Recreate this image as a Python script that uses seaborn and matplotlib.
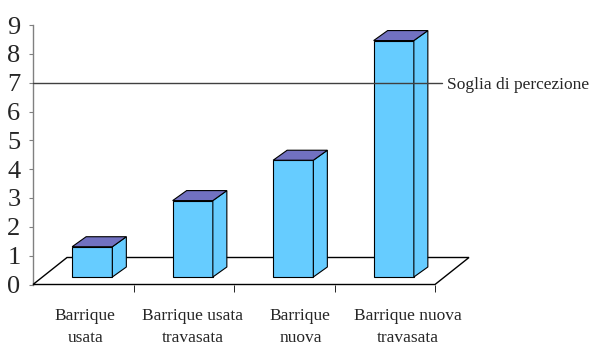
import numpy as np
import matplotlib
matplotlib.use("Agg")
import matplotlib.pyplot as plt
import matplotlib.transforms as mtransforms
from matplotlib.patches import Polygon
import seaborn as sns

# data
categories = ["Barrique\nusata", "Barrique usata\ntravasata",
              "Barrique\nnuova", "Barrique nuova\ntravasata"]
values = [1.05, 2.65, 4.05, 8.2]
threshold = 7
threshold_label = "Soglia di percezione"
yticks = list(range(10))

FRONT = "#66CCFF"
TOP = "#7171C1"

sns.set_style("white")
plt.rcParams["font.family"] = ["Liberation Serif", "DejaVu Serif"]

W, H = 596, 347
fig = plt.figure(figsize=(W / 100, H / 100), dpi=100)
ax = fig.add_axes([33 / W, (H - 284.5) / H, 402 / W, 259.5 / H])

sns.barplot(x=categories, y=values, width=0.40, color=FRONT, saturation=1,
            edgecolor="black", linewidth=0.8, ax=ax, zorder=3)
bars = list(ax.patches)
ax.set_xlim(-0.5, len(categories) - 0.5)
ax.set_ylim(0, 9)


def shifted(pts, dx, dy):
    # move data points by a fixed amount of pixels (oblique 3d look)
    disp = ax.transData.transform(np.asarray(pts, dtype=float)) + [dx, dy]
    return ax.transData.inverted().transform(disp)


# floor of the 3d box
x0, x1 = ax.get_xlim()
floor = np.vstack([[(x0, 0), (x1, 0)], shifted([(x1, 0), (x0, 0)], 34, 27)])
ax.add_patch(Polygon(floor, closed=True, facecolor="white", edgecolor="black",
                     lw=1.0, zorder=1, clip_on=False))

# bars: front face from seaborn, moved to mid depth, plus top and side faces
front_off = mtransforms.ScaledTranslation(9 / 100, 7.5 / 100, fig.dpi_scale_trans)
depth = (14, 10)
for p in bars:
    bx, bw, bh = p.get_x(), p.get_width(), p.get_height()
    p.set_transform(ax.transData + front_off)
    fr = shifted([(bx, 0), (bx + bw, 0), (bx + bw, bh), (bx, bh)], 9, 7.5)
    back = shifted(fr, *depth)
    top = [fr[3], fr[2], back[2], back[3]]
    side = [fr[1], back[1], back[2], fr[2]]
    ax.add_patch(Polygon(side, closed=True, facecolor=FRONT, edgecolor="black",
                         lw=0.8, zorder=3, clip_on=False))
    ax.add_patch(Polygon(top, closed=True, facecolor=TOP, edgecolor="black",
                         lw=0.8, zorder=3, clip_on=False))

# threshold line and its label
x_end = shifted([(x1, threshold)], 7, 0)[0][0]
ax.plot([x0, x_end], [threshold, threshold], color="#404040", lw=1.0,
        zorder=6, clip_on=False)
ax.annotate(threshold_label, xy=(x1, threshold), xytext=(12, -2),
            textcoords="offset pixels", ha="left", va="center", fontsize=12.5)

# axes cosmetics
for s in ["top", "right", "bottom"]:
    ax.spines[s].set_visible(False)
ax.spines["left"].set_color("#808080")
ax.spines["left"].set_linewidth(1.0)
ax.spines["left"].set_zorder(0.5)

ax.set_yticks(yticks)
ax.set_yticklabels([str(t) for t in yticks])
ax.tick_params(axis="y", direction="out", length=3, color="#808080",
               labelsize=19, pad=6, left=True)

# Excel spreads the category labels a little wider than the categories
ax.set_xticks(np.arange(len(categories)) * 1.07 + 0.02)
ax.set_xticklabels(categories, fontsize=12.5, linespacing=1.45)
ax.set_xticks(np.arange(len(categories)) + 0.5, minor=True)
ax.tick_params(axis="x", which="major", length=0, pad=17)
ax.tick_params(axis="x", which="minor", direction="out", length=5,
               color="black", bottom=True)
ax.set_xlabel("")
ax.set_ylabel("")

fig.savefig("out.png", dpi=100)
